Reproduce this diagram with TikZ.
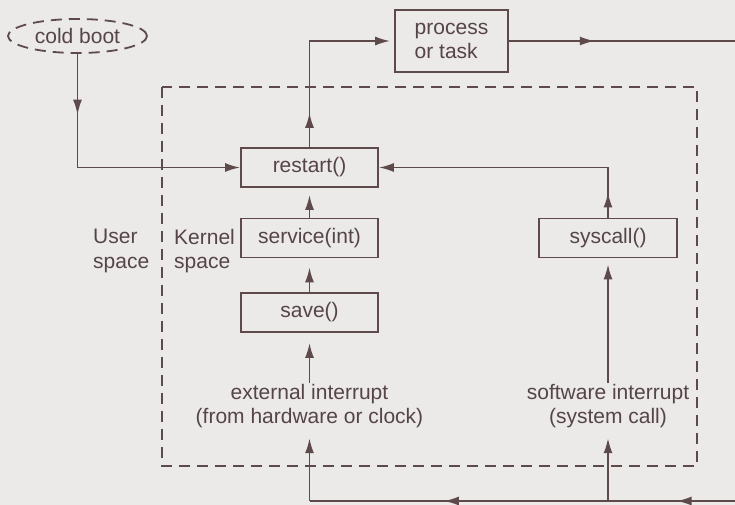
\documentclass[tikz,border=0pt]{standalone}
\usepackage{fontspec}
\setmainfont{Liberation Sans}
\usetikzlibrary{arrows.meta,decorations.markings,shapes.geometric}
\definecolor{bg}{HTML}{ECE9E9}
\definecolor{ln}{HTML}{5F4A4B}
\definecolor{tx}{HTML}{554547}
\tikzset{
  box/.style={draw=ln,line width=1.8pt,minimum height=39pt,inner sep=2pt,text=tx},
  lbl/.style={text=tx,inner sep=1pt,align=center},
  conn/.style={draw=ln,line width=1.8pt},
  arr/.style={conn,-{Latex[length=15pt,width=9pt]}},
  dsh/.style={draw=ln,line width=1.8pt,dash pattern=on 11pt off 7pt},
  midarr/.style={postaction={decorate},decoration={markings,mark=at position #1 with {\arrow[ln]{Latex[length=15pt,width=9pt]}}}}
}
\begin{document}
\begin{tikzpicture}[x=1pt,y=-1pt,font=\fontsize{21}{24.5}\selectfont]
\fill[bg] (0,0) rectangle (735,505);
\useasboundingbox (0,0) rectangle (735,505);
% kernel space frame
\draw[dsh] (162,87) rectangle (697,466);
% nodes
\node[ellipse,dsh,text=tx,minimum width=139pt,minimum height=34pt,inner sep=0pt] (boot) at (77.5,36) {cold boot};
\node[box,minimum width=113pt,minimum height=62pt,align=left] (proc) at (451.5,41) {process\\or task};
\node[box,minimum width=137pt] (restart) at (309.5,167.5) {restart()};
\node[box,minimum width=137pt] (service) at (309.5,238) {service(int)};
\node[box,minimum width=137pt] (save) at (309.5,312.5) {save()};
\node[box,minimum width=138pt] (syscall) at (608,238) {syscall()};
\node[lbl] (ext) at (309.5,406) {external interrupt\\(from hardware or clock)};
\node[lbl] (soft) at (608,406) {software interrupt\\(system call)};
\node[lbl,anchor=west,align=left] (user) at (92,251) {User\\space};
\node[lbl,anchor=west,align=left] (kern) at (173,251) {Kernel\\space};
% helper coordinates
\coordinate (bootc) at (77.5,167.5);
\coordinate (top) at (309.5,41);
\coordinate (rtop) at (735,41);
\coordinate (sysc) at (608,167.5);
\coordinate (bl) at (309.5,501);
\coordinate (br) at (608,501);
\coordinate (redge) at (735,501);
% connectors
\draw[arr,midarr=0.22] (boot.south) -- (bootc) -- (restart.west);
\draw[arr,midarr=0.18,shorten >=4pt] (restart.north) -- (top) -- (proc.west);
\draw[conn,midarr=0.38] (proc.east) -- (rtop);
\draw[arr,shorten >=7pt] (service.north) -- (restart.south);
\draw[arr,shorten >=9pt] (save.north) -- (service.south);
\draw[arr,shorten >=10pt] (ext.north) -- (save.south);
\draw[arr,midarr=0.09] (syscall.north) -- (sysc) -- (restart.east);
\draw[arr,shorten >=6pt] (soft.north) -- (syscall.south);
\draw[conn,midarr=0.46] (redge) -- (br);
\draw[conn,midarr=0.55] (br) -- (bl);
\draw[arr,shorten >=9pt] (bl) -- (ext.south);
\draw[arr,shorten >=9pt] (br) -- (soft.south);
\end{tikzpicture}
\end{document}
